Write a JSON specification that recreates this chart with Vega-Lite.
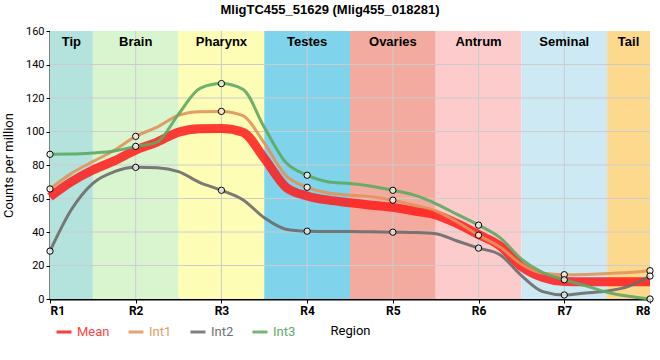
{
  "$schema": "https://vega.github.io/schema/vega-lite/v6.json",
  "width": 600,
  "height": 268,
  "autosize": "none",
  "padding": {"left": 50, "top": 31, "right": 10, "bottom": 61},
  "background": "white",
  "title": {"text": "MligTC455_51629 (Mlig455_018281)", "font": "Liberation Sans", "fontSize": 13, "fontWeight": "bold", "color": "black", "offset": 8, "dx": -20},
  "config": {
    "view": {"stroke": null},
    "axis": {"zindex": 1, "labelOverlap": false, "grid": false, "domainColor": "black", "domainWidth": 2, "tickColor": "black", "tickSize": 4, "labelPadding": 2, "labelColor": "black", "labelFont": "Roboto", "titleFont": "Roboto", "titleFontSize": 13, "titleFontWeight": "normal", "titleColor": "black"},
    "axisY": {"labelOverlap": false, "tickCount": 9, "labelFontSize": 11, "titlePadding": 10},
    "axisX": {"tickCount": 8, "labelFontSize": 12, "labelFontWeight": "bold", "titlePadding": 8}
  },
  "datasets": {
    "bands": [
      {"region": "Tip", "start": 1, "end": 1.5},
      {"region": "Brain", "start": 1.5, "end": 2.5},
      {"region": "Pharynx", "start": 2.5, "end": 3.5},
      {"region": "Testes", "start": 3.5, "end": 4.5},
      {"region": "Ovaries", "start": 4.5, "end": 5.5},
      {"region": "Antrum", "start": 5.5, "end": 6.5},
      {"region": "Seminal", "start": 6.5, "end": 7.5},
      {"region": "Tail", "start": 7.5, "end": 8}
    ],
    "gridY": [{"v": 20}, {"v": 40}, {"v": 60}, {"v": 80}, {"v": 100}, {"v": 120}, {"v": 140}],
    "gridX": [{"v": 2}, {"v": 3}, {"v": 4}, {"v": 5}, {"v": 6}, {"v": 7}],
    "series": [
      {"pos": 1, "series": "Mean", "value": 61},
      {"pos": 1.25, "series": "Mean", "value": 70},
      {"pos": 1.5, "series": "Mean", "value": 77},
      {"pos": 1.75, "series": "Mean", "value": 82.5},
      {"pos": 2, "series": "Mean", "value": 88.9},
      {"pos": 2.25, "series": "Mean", "value": 93.7},
      {"pos": 2.5, "series": "Mean", "value": 99.6},
      {"pos": 2.75, "series": "Mean", "value": 101.6},
      {"pos": 3, "series": "Mean", "value": 101.8},
      {"pos": 3.25, "series": "Mean", "value": 99.6},
      {"pos": 3.5, "series": "Mean", "value": 84},
      {"pos": 3.75, "series": "Mean", "value": 66.9},
      {"pos": 4, "series": "Mean", "value": 61.5},
      {"pos": 4.25, "series": "Mean", "value": 59},
      {"pos": 4.5, "series": "Mean", "value": 57.5},
      {"pos": 4.75, "series": "Mean", "value": 56},
      {"pos": 5, "series": "Mean", "value": 54.7},
      {"pos": 5.25, "series": "Mean", "value": 52.5},
      {"pos": 5.5, "series": "Mean", "value": 50.2},
      {"pos": 5.75, "series": "Mean", "value": 45},
      {"pos": 6, "series": "Mean", "value": 38.5},
      {"pos": 6.25, "series": "Mean", "value": 31.7},
      {"pos": 6.5, "series": "Mean", "value": 19.4},
      {"pos": 6.75, "series": "Mean", "value": 12.9},
      {"pos": 7, "series": "Mean", "value": 10.5},
      {"pos": 7.25, "series": "Mean", "value": 10.3},
      {"pos": 7.5, "series": "Mean", "value": 10.3},
      {"pos": 7.75, "series": "Mean", "value": 10.3},
      {"pos": 8, "series": "Mean", "value": 10.3},
      {"pos": 1, "series": "Int1", "value": 65.7},
      {"pos": 1.25, "series": "Int1", "value": 75},
      {"pos": 1.5, "series": "Int1", "value": 82},
      {"pos": 1.75, "series": "Int1", "value": 88.8},
      {"pos": 2, "series": "Int1", "value": 97.1},
      {"pos": 2.25, "series": "Int1", "value": 102.6},
      {"pos": 2.5, "series": "Int1", "value": 109.7},
      {"pos": 2.75, "series": "Int1", "value": 111.8},
      {"pos": 3, "series": "Int1", "value": 112},
      {"pos": 3.25, "series": "Int1", "value": 109.5},
      {"pos": 3.5, "series": "Int1", "value": 93},
      {"pos": 3.75, "series": "Int1", "value": 73.8},
      {"pos": 4, "series": "Int1", "value": 66.7},
      {"pos": 4.25, "series": "Int1", "value": 63.3},
      {"pos": 4.5, "series": "Int1", "value": 62},
      {"pos": 4.75, "series": "Int1", "value": 61},
      {"pos": 5, "series": "Int1", "value": 59},
      {"pos": 5.25, "series": "Int1", "value": 56},
      {"pos": 5.5, "series": "Int1", "value": 52.7},
      {"pos": 5.75, "series": "Int1", "value": 46},
      {"pos": 6, "series": "Int1", "value": 38.1},
      {"pos": 6.25, "series": "Int1", "value": 31},
      {"pos": 6.5, "series": "Int1", "value": 20.8},
      {"pos": 6.75, "series": "Int1", "value": 15.4},
      {"pos": 7, "series": "Int1", "value": 14.5},
      {"pos": 7.25, "series": "Int1", "value": 14.7},
      {"pos": 7.5, "series": "Int1", "value": 15.2},
      {"pos": 7.75, "series": "Int1", "value": 15.8},
      {"pos": 8, "series": "Int1", "value": 16.9},
      {"pos": 1, "series": "Int2", "value": 28.6},
      {"pos": 1.25, "series": "Int2", "value": 53.4},
      {"pos": 1.5, "series": "Int2", "value": 69.1},
      {"pos": 1.75, "series": "Int2", "value": 76},
      {"pos": 2, "series": "Int2", "value": 78.6},
      {"pos": 2.25, "series": "Int2", "value": 78.4},
      {"pos": 2.5, "series": "Int2", "value": 76},
      {"pos": 2.75, "series": "Int2", "value": 69.5},
      {"pos": 3, "series": "Int2", "value": 64.9},
      {"pos": 3.25, "series": "Int2", "value": 59.3},
      {"pos": 3.5, "series": "Int2", "value": 48.5},
      {"pos": 3.75, "series": "Int2", "value": 41.7},
      {"pos": 4, "series": "Int2", "value": 40.5},
      {"pos": 4.25, "series": "Int2", "value": 40.3},
      {"pos": 4.5, "series": "Int2", "value": 40.3},
      {"pos": 4.75, "series": "Int2", "value": 40.1},
      {"pos": 5, "series": "Int2", "value": 39.9},
      {"pos": 5.25, "series": "Int2", "value": 39.7},
      {"pos": 5.5, "series": "Int2", "value": 39},
      {"pos": 5.75, "series": "Int2", "value": 34.6},
      {"pos": 6, "series": "Int2", "value": 30.4},
      {"pos": 6.25, "series": "Int2", "value": 26.4},
      {"pos": 6.5, "series": "Int2", "value": 14},
      {"pos": 6.75, "series": "Int2", "value": 4.4},
      {"pos": 7, "series": "Int2", "value": 2.4},
      {"pos": 7.25, "series": "Int2", "value": 3.6},
      {"pos": 7.5, "series": "Int2", "value": 4.8},
      {"pos": 7.75, "series": "Int2", "value": 7.5},
      {"pos": 8, "series": "Int2", "value": 13.7},
      {"pos": 1, "series": "Int3", "value": 86.4},
      {"pos": 1.25, "series": "Int3", "value": 86.5},
      {"pos": 1.5, "series": "Int3", "value": 87.2},
      {"pos": 1.75, "series": "Int3", "value": 88.4},
      {"pos": 2, "series": "Int3", "value": 91.1},
      {"pos": 2.25, "series": "Int3", "value": 93.7},
      {"pos": 2.5, "series": "Int3", "value": 110.4},
      {"pos": 2.75, "series": "Int3", "value": 125.8},
      {"pos": 3, "series": "Int3", "value": 128.6},
      {"pos": 3.25, "series": "Int3", "value": 125.2},
      {"pos": 3.5, "series": "Int3", "value": 102.5},
      {"pos": 3.75, "series": "Int3", "value": 81.6},
      {"pos": 4, "series": "Int3", "value": 73.9},
      {"pos": 4.25, "series": "Int3", "value": 69.9},
      {"pos": 4.5, "series": "Int3", "value": 68.9},
      {"pos": 4.75, "series": "Int3", "value": 67.3},
      {"pos": 5, "series": "Int3", "value": 64.9},
      {"pos": 5.25, "series": "Int3", "value": 62},
      {"pos": 5.5, "series": "Int3", "value": 57},
      {"pos": 5.75, "series": "Int3", "value": 50.5},
      {"pos": 6, "series": "Int3", "value": 44.1},
      {"pos": 6.25, "series": "Int3", "value": 36.6},
      {"pos": 6.5, "series": "Int3", "value": 23.8},
      {"pos": 6.75, "series": "Int3", "value": 15.8},
      {"pos": 7, "series": "Int3", "value": 11.5},
      {"pos": 7.25, "series": "Int3", "value": 7.9},
      {"pos": 7.5, "series": "Int3", "value": 4},
      {"pos": 7.75, "series": "Int3", "value": 1.6},
      {"pos": 8, "series": "Int3", "value": 0}
    ]
  },
  "layer": [
    {
      "data": {"name": "bands"},
      "mark": {"type": "rect"},
      "encoding": {
        "x": {"field": "start", "type": "quantitative", "scale": {"domain": [1, 8], "nice": false, "zero": false},
          "axis": {"values": [1, 2, 3, 4, 5, 6, 7, 8], "labelExpr": "'R' + datum.value", "title": "Region"}},
        "x2": {"field": "end"},
        "y": {"datum": 0, "type": "quantitative", "scale": {"domain": [0, 160], "nice": false},
          "axis": {"values": [0, 20, 40, 60, 80, 100, 120, 140, 160], "labelOverlap": false, "title": "Counts per million"}},
        "y2": {"datum": 160},
        "fill": {"field": "region", "type": "nominal", "legend": null,
          "scale": {"domain": ["Tip", "Brain", "Pharynx", "Testes", "Ovaries", "Antrum", "Seminal", "Tail"],
            "range": ["#b4e3dd", "#d8f5cf", "#fdfdb5", "#7fd3ea", "#f4ab9f", "#fccbcb", "#cdeaf4", "#fcd98c"]}}
      }
    },
    {
      "data": {"name": "gridY"},
      "mark": {"type": "rule", "color": "#cccccc", "strokeWidth": 1},
      "encoding": {"y": {"field": "v", "type": "quantitative"}}
    },
    {
      "data": {"name": "gridX"},
      "mark": {"type": "rule", "color": "#cccccc", "strokeWidth": 1},
      "encoding": {"x": {"field": "v", "type": "quantitative"}}
    },
    {
      "mark": {"type": "rule", "color": "black", "strokeWidth": 1},
      "encoding": {"y": {"datum": 160, "type": "quantitative"}}
    },
    {
      "mark": {"type": "rule", "color": "black", "strokeWidth": 1},
      "encoding": {"x": {"datum": 8, "type": "quantitative"}}
    },
    {
      "data": {"name": "bands"},
      "transform": [{"calculate": "(datum.start + datum.end) / 2", "as": "mid"}],
      "mark": {"type": "text", "font": "Liberation Sans", "fontSize": 13, "fontWeight": "bold", "color": "black", "baseline": "top", "dy": 5},
      "encoding": {
        "x": {"field": "mid", "type": "quantitative"},
        "y": {"datum": 160, "type": "quantitative"},
        "text": {"field": "region"}
      }
    },
    {
      "data": {"name": "series"},
      "transform": [{"filter": "datum.series === 'Mean'"}],
      "mark": {"type": "line", "interpolate": "monotone", "strokeWidth": 9, "opacity": 0.85},
      "encoding": {
        "x": {"field": "pos", "type": "quantitative"},
        "y": {"field": "value", "type": "quantitative"},
        "color": {"field": "series", "type": "nominal",
          "scale": {"domain": ["Mean", "Int1", "Int2", "Int3"], "range": ["#ff1a1a", "#e0935a", "#6b6b6b", "#5ea962"]},
          "legend": {"orient": "none", "legendX": 5, "legendY": 292, "direction": "horizontal", "title": null,
            "symbolType": "stroke", "symbolSize": 225, "symbolStrokeWidth": 3, "labelFont": "Roboto", "labelFontSize": 13, "columnPadding": 12, "symbolOffset": 0,
            "labelOffset": 4,
            "labelColor": {"expr": "datum.value === 'Mean' ? '#ff4444' : datum.value === 'Int1' ? '#e59a62' : datum.value === 'Int2' ? '#707070' : '#62aa68'"},
            "encode": {
              "symbols": {"strokeWidth": {"value": {"expr": "datum.value === 'Mean' ? 9 : 3"}}, "opacity": {"value": 1}}
            }}}
      }
    },
    {
      "data": {"name": "series"},
      "transform": [{"filter": "datum.series !== 'Mean'"}],
      "mark": {"type": "line", "interpolate": "monotone", "strokeWidth": 3, "opacity": 0.9},
      "encoding": {
        "x": {"field": "pos", "type": "quantitative"},
        "y": {"field": "value", "type": "quantitative"},
        "color": {"field": "series", "type": "nominal"}
      }
    },
    {
      "data": {"name": "series"},
      "transform": [{"filter": "datum.series !== 'Mean' && datum.pos % 1 === 0"}],
      "mark": {"type": "point", "shape": "circle", "size": 40, "filled": false, "fill": "white", "fillOpacity": 0.7, "stroke": "black", "strokeWidth": 1, "opacity": 1},
      "encoding": {
        "x": {"field": "pos", "type": "quantitative"},
        "y": {"field": "value", "type": "quantitative"}
      }
    }
  ]
}
